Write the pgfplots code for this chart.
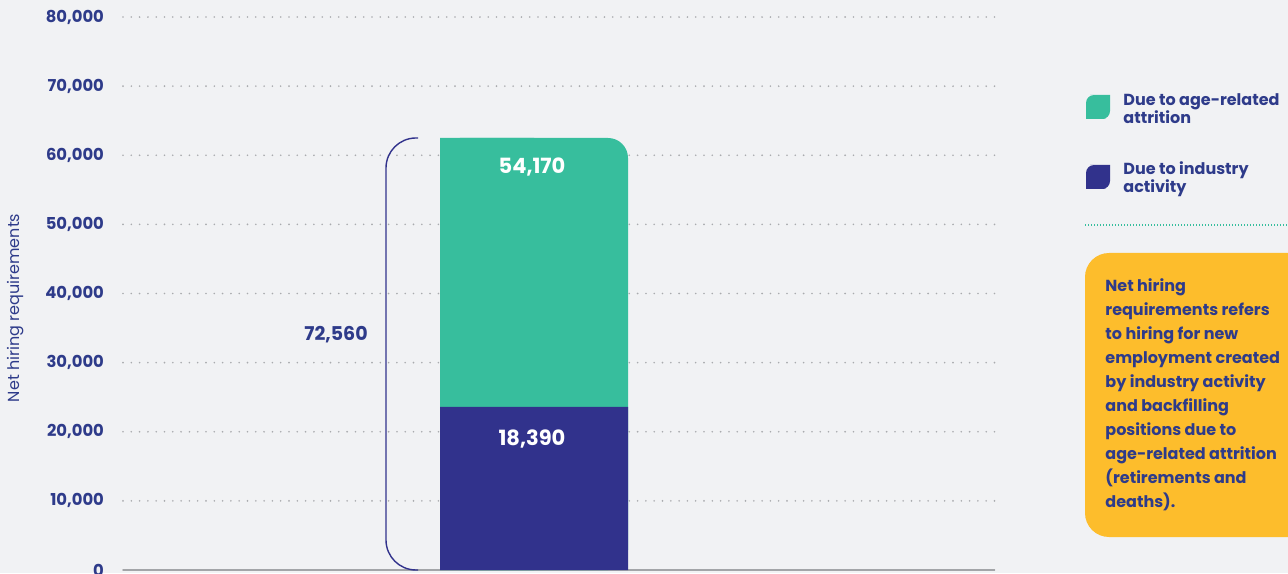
\documentclass[border=0pt]{standalone}
\usepackage{pgfplots}
\pgfplotsset{compat=1.18}
\usepackage{fontspec}
\setmainfont{Poppins}

\definecolor{bg}{HTML}{F1F2F4}
\definecolor{navytext}{HTML}{2E3B8A}
\definecolor{barnavy}{HTML}{31328C}
\definecolor{barteal}{HTML}{37BE9D}
\definecolor{noteyellow}{HTML}{FDBD2C}
\definecolor{gridgray}{HTML}{A9ABAE}
\definecolor{axisgray}{HTML}{A3A5A8}

\begin{document}
\begin{tikzpicture}
\fill[bg] (0,0) rectangle (644pt,286.5pt);
\useasboundingbox (0,0) rectangle (644pt,286.5pt);

\begin{axis}[
    at={(61.5pt,1.5pt)}, anchor=south west,
    scale only axis, width=436pt, height=276.5pt,
    xmin=123, xmax=995, ymin=0, ymax=80000,
    clip=false,
    axis x line*=bottom, axis y line*=left,
    x axis line style={draw=axisgray, line width=1pt, -},
    y axis line style={draw=none},
    xtick=\empty,
    ytick={0,10000,...,80000},
    major tick length=0pt,
    scaled y ticks=false,
    /pgf/number format/.cd, 1000 sep={,}, assume math mode=true,
    /pgfplots/.cd,
    yticklabel style={font=\bfseries\fontsize{8.2}{10}\selectfont, text=navytext, xshift=-6pt},
    ymajorgrids,
    major grid style={draw=gridgray, line width=0.9pt, line cap=round, dash pattern=on 0pt off 4.15pt},
    ylabel={Net hiring requirements},
    ylabel style={at={(rel axis cs:-0.1227,0.474)}, anchor=center, font=\fontsize{8}{9}\selectfont, text=navytext},
    no markers,
]
% bar drawn at its pictured heights; printed values are 18,390 and 54,170
\addplot[fill=barteal, draw=none, rounded corners=10pt]
    coordinates {(534,0) (628,0) (628,62500) (440,62500) (440,0) (534,0)};
\addplot[fill=barteal, draw=none]
    coordinates {(440,0) (534,0) (534,62500) (440,62500) (440,0)};
\addplot[fill=barnavy, draw=none]
    coordinates {(440,0) (628,0) (628,23600) (440,23600) (440,0)};
% bracket
\addplot[draw=barnavy, line width=0.7pt, rounded corners=15pt]
    coordinates {(418,62500) (386,62500) (386,0) (418,0)};

\node[font=\bfseries\fontsize{10.5}{12}\selectfont, text=white] at (axis cs:532,58300) {54,170};
\node[font=\bfseries\fontsize{10.5}{12}\selectfont, text=white] at (axis cs:532,18950) {18,390};
\node[font=\bfseries\fontsize{9.5}{11}\selectfont, text=navytext] at (axis cs:336,34000) {72,560};
\end{axis}

\begin{scope}[x=0.5pt, y=-0.5pt, shift={(0,286.5pt)}]
  % legend
  \fill[barteal] (1086,107) [rounded corners=4pt] -- (1086,95) -- (1098,95) [sharp corners] -- (1110,95)
      [rounded corners=4pt] -- (1110,119) -- (1098,119) [sharp corners] -- (1086,119) -- cycle;
  \fill[barnavy] (1086,177) [rounded corners=4pt] -- (1086,165) -- (1098,165) [sharp corners] -- (1110,165)
      [rounded corners=4pt] -- (1110,189) -- (1098,189) [sharp corners] -- (1086,189) -- cycle;
  % base of a multi-line node is its last line
  \node[anchor=base west, inner sep=0pt, align=left, text=navytext,
        font=\bfseries\fontsize{8}{9}\selectfont] at (1123,124) {Due to age-related\\attrition};
  \node[anchor=base west, inner sep=0pt, align=left, text=navytext,
        font=\bfseries\fontsize{8}{9}\selectfont] at (1123,193) {Due to industry\\activity};
  \draw[barteal, line width=0.6pt, dash pattern=on 0.5pt off 1pt] (1085,225) -- (1290,225);
  % note box
  \fill[noteyellow, rounded corners=12pt] (1085,253) rectangle (1330,537);
  \node[anchor=base west, inner sep=0pt, align=left, text=navytext,
        font=\bfseries\fontsize{8}{12}\selectfont] at (1105,507)
    {Net hiring\\requirements refers\\to hiring for new\\employment created\\by industry activity\\and backfilling\\positions due to\\age-related attrition\\(retirements and\\deaths).};
\end{scope}
\end{tikzpicture}
\end{document}
